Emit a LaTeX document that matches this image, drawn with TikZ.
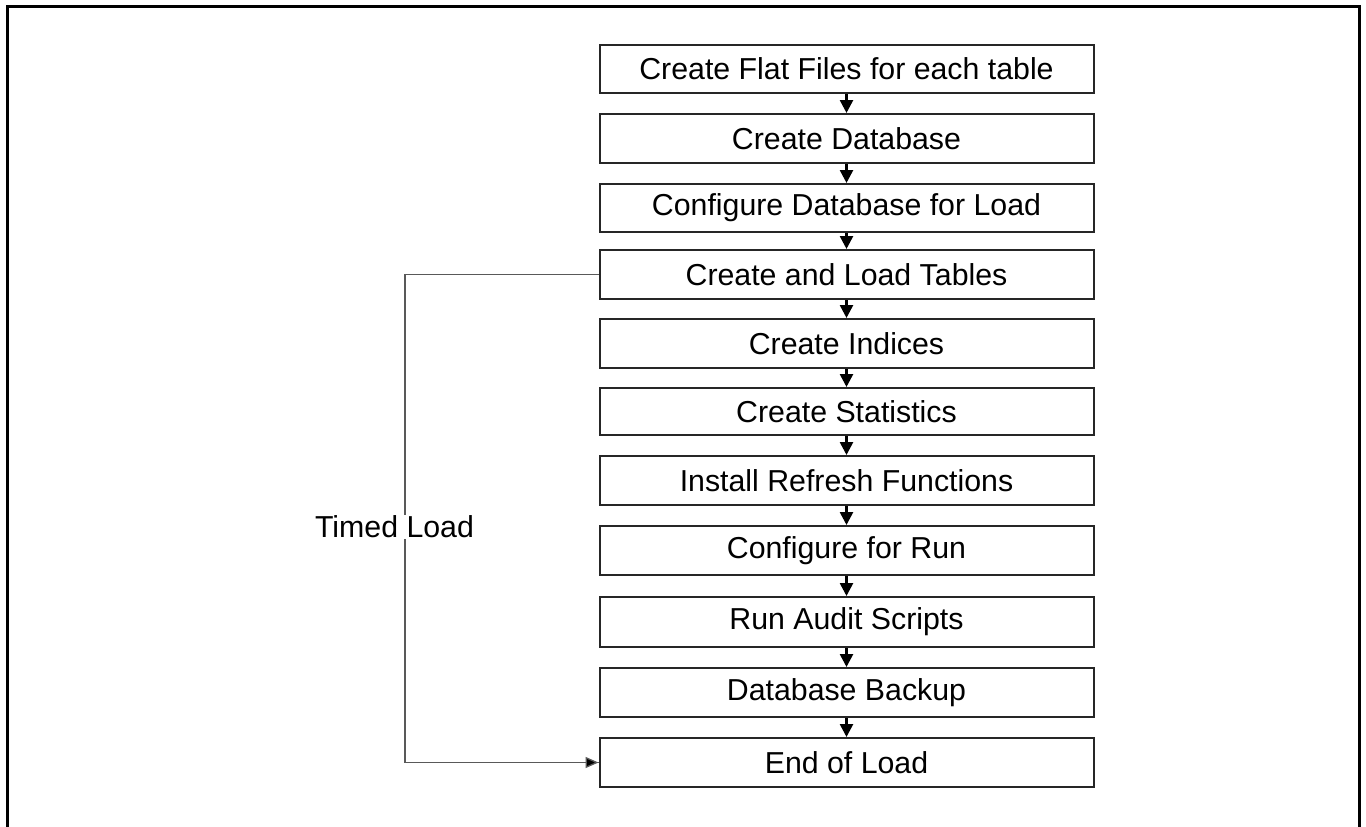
\documentclass[tikz,border=0pt]{standalone}
\usepackage{fontspec}
\setmainfont{Liberation Sans}
\usetikzlibrary{arrows.meta}
\begin{document}
\begin{tikzpicture}[x=1pt,y=-1pt,
  stepbox/.style={draw=black!85,line width=2pt,minimum width=494pt,anchor=north,inner sep=0pt,font=\fontsize{30.3}{33}\selectfont},
  flow/.style={line width=2.6pt,-{Triangle[length=13pt,width=13pt]}},
  loop/.style={draw=black!65,line width=1.3pt},
  lbl/.style={font=\fontsize{30.3}{33}\selectfont,fill=white,inner sep=1pt}]
\useasboundingbox (0,0) rectangle (1366,827);
\begin{scope}
\clip (0,0) rectangle (1366,827);
\draw[line width=3pt] (7,900) -- (7,6) -- (1359,6) -- (1359,900);
\end{scope}
\node[stepbox,minimum height=48pt] (b1) at (846.5,44) {Create Flat Files for each table};
\node[stepbox,minimum height=49pt] (b2) at (846.5,113) {Create Database};
\node[stepbox,minimum height=48pt] (b3) at (846.5,183) {Configure Database for Load};
\node[stepbox,minimum height=49pt] (b4) at (846.5,249) {Create and Load Tables};
\node[stepbox,minimum height=49pt] (b5) at (846.5,318) {Create Indices};
\node[stepbox,minimum height=47pt] (b6) at (846.5,387) {Create Statistics};
\node[stepbox,minimum height=49pt] (b7) at (846.5,455) {Install Refresh Functions};
\node[stepbox,minimum height=49pt] (b8) at (846.5,525) {Configure for Run};
\node[stepbox,minimum height=50pt] (b9) at (846.5,596) {Run Audit Scripts};
\node[stepbox,minimum height=49pt] (b10) at (846.5,667) {Database Backup};
\node[stepbox,minimum height=49pt] (b11) at (846.5,737) {End of Load};
\foreach \a/\b in {b1/b2,b2/b3,b3/b4,b4/b5,b5/b6,b6/b7,b7/b8,b8/b9,b9/b10,b10/b11}
  \draw[flow] (\a.south) -- (\b.north);
\coordinate (c1) at (405,0 |- b4.west);
\coordinate (c2) at (405,0 |- b11.west);
\draw[loop] (b4.west) -- (c1) -- (c2) -- (b11.west);
\draw[-{Triangle[length=13pt,width=11pt,fill=black]},line width=1.3pt,draw=black!65] ([xshift=-30pt]b11.west) -- (b11.west);
\node[lbl] (tl) at (394.5,527) {Timed Load};
\end{tikzpicture}
\end{document}
